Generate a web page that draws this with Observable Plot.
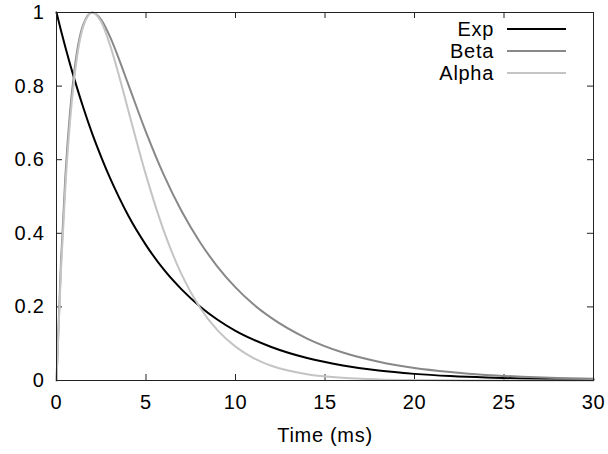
<!DOCTYPE html>
<html>
<head>
<meta charset="utf-8">
<script src="https://cdn.jsdelivr.net/npm/d3@7"></script>
<script src="https://cdn.jsdelivr.net/npm/@observablehq/plot@0.6"></script>
<style>
  body { margin: 0; background: #fff; }
  #wrap { position: relative; width: 608px; height: 454px; font-family: "Liberation Sans", Arial, sans-serif; }
  #legend { position: absolute; left: 0; top: 18px; }
  .row { position: absolute; left: 380px; height: 22px; display: flex; align-items: center; }
  .row span { display: inline-block; width: 114px; text-align: right; font-size: 20px; letter-spacing: 0.7px; color: #000; }
  .row svg { margin-left: 13px; }
</style>
</head>
<body>
<div id="wrap"><div id="legend"></div></div>
<script>
// Time axis samples (ms)
const time = [0, 0.25, 0.5, 0.75, 1, 1.5, 2, 2.5, 3, 3.5, 4, 5, 6, 7, 8, 9, 10, 11, 12, 14, 16, 18, 20, 22, 24, 26, 28, 30];
// Series values
const expVals   = [1, 0.951, 0.905, 0.861, 0.819, 0.741, 0.670, 0.607, 0.549, 0.497, 0.449, 0.368, 0.301, 0.247, 0.202, 0.165, 0.135, 0.111, 0.091, 0.061, 0.041, 0.027, 0.018, 0.012, 0.008, 0.0055, 0.0037, 0.0025];
const betaVals  = [0, 0.322, 0.558, 0.726, 0.843, 0.968, 1.000, 0.980, 0.933, 0.872, 0.806, 0.675, 0.558, 0.459, 0.377, 0.309, 0.253, 0.207, 0.170, 0.114, 0.076, 0.051, 0.034, 0.023, 0.015, 0.0103, 0.0069, 0.0046];
const alphaVals = [0, 0.300, 0.529, 0.701, 0.824, 0.963, 1.000, 0.974, 0.910, 0.827, 0.736, 0.558, 0.406, 0.287, 0.199, 0.136, 0.092, 0.061, 0.040, 0.017, 0.0073, 0.0030, 0.0012, 0.0005, 0.0002, 0.0001, 0, 0];
const seriesNames = ["Exp", "Beta", "Alpha"];
const xTicks = [0, 5, 10, 15, 20, 25, 30];
const yTicks = [0, 0.2, 0.4, 0.6, 0.8, 1];
const xLabel = "Time (ms)";

const seriesColors = ["#000000", "#888888", "#c4c4c4"];
const valuesBySeries = [expVals, betaVals, alphaVals];
const rows = seriesNames.flatMap((name, k) => time.map((t, i) => ({t, v: valuesBySeries[k][i], name})));

const W = 608, H = 454, mL = 56, mR = 15, mT = 12, mB = 74;
const tickPx = 6;
const xTickLen = tickPx / (W - mL - mR) * 30;
const yTickLen = tickPx / (H - mT - mB) * 1;

const chart = Plot.plot({
  width: W, height: H,
  marginLeft: mL, marginRight: mR, marginTop: mT, marginBottom: mB,
  style: {fontFamily: "'Liberation Sans', Arial, sans-serif", fontSize: "20px", letterSpacing: "0.7px", color: "#000", background: "#fff"},
  x: {domain: [0, 30], ticks: xTicks, label: null},
  y: {domain: [0, 1], ticks: yTicks, label: null},
  color: {domain: seriesNames, range: seriesColors},
  marks: [
    Plot.axisX(xTicks, {tickSize: 0, tickPadding: 14, tickFormat: d3.format("")}),
    Plot.axisY(yTicks, {tickSize: 0, tickPadding: 12, tickFormat: d3.format("")}),
    Plot.ruleX(xTicks, {x: d => d, y1: 0, y2: yTickLen, stroke: "#222", strokeWidth: 1}),
    Plot.ruleX(xTicks, {x: d => d, y1: 1, y2: 1 - yTickLen, stroke: "#222", strokeWidth: 1}),
    Plot.ruleY(yTicks, {y: d => d, x1: 0, x2: xTickLen, stroke: "#222", strokeWidth: 1}),
    Plot.ruleY(yTicks, {y: d => d, x1: 30, x2: 30 - xTickLen, stroke: "#222", strokeWidth: 1}),
    Plot.line(rows, {x: "t", y: "v", z: "name", stroke: "name", strokeWidth: 2, curve: "monotone-x"}),
    Plot.frame({stroke: "#222", strokeWidth: 1}),
    Plot.text([xLabel], {frameAnchor: "bottom", dy: 47, lineAnchor: "top", text: d => d, fontSize: 20})
  ]
});
document.getElementById("wrap").prepend(chart);

const legend = document.getElementById("legend");
seriesNames.forEach((name, i) => {
  const row = document.createElement("div");
  row.className = "row";
  row.style.top = (i * 22) + "px";
  const label = document.createElement("span");
  label.textContent = name;
  row.appendChild(label);
  const sw = document.createElementNS("http://www.w3.org/2000/svg", "svg");
  sw.setAttribute("width", 59); sw.setAttribute("height", 4);
  const ln = document.createElementNS("http://www.w3.org/2000/svg", "line");
  ln.setAttribute("x1", 0); ln.setAttribute("x2", 59); ln.setAttribute("y1", 2); ln.setAttribute("y2", 2);
  ln.setAttribute("stroke", seriesColors[i]); ln.setAttribute("stroke-width", 2);
  sw.appendChild(ln);
  row.appendChild(sw);
  legend.appendChild(row);
});
</script>
</body>
</html>
